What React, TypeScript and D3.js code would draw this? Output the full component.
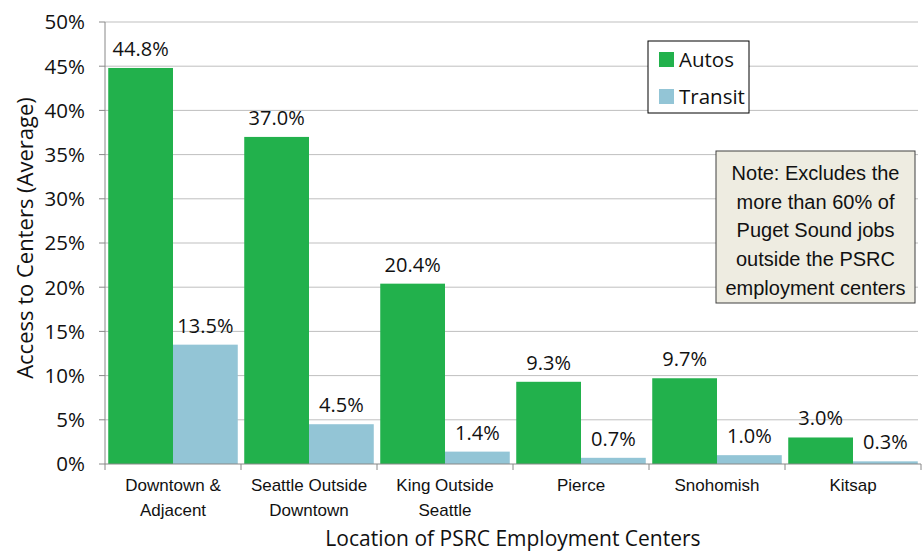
import React from "react";
import * as d3 from "d3";

const categories = [
  ["Downtown &", "Adjacent"],
  ["Seattle Outside", "Downtown"],
  ["King Outside", "Seattle"],
  ["Pierce"],
  ["Snohomish"],
  ["Kitsap"],
];
const autos = [44.8, 37.0, 20.4, 9.3, 9.7, 3.0];
const transit = [13.5, 4.5, 1.4, 0.7, 1.0, 0.3];
const yTicks = [0, 5, 10, 15, 20, 25, 30, 35, 40, 45, 50];
const noteLines = [
  "Note: Excludes the",
  "more than 60% of",
  "Puget Sound jobs",
  "outside the PSRC",
  "employment centers",
];

const GREEN = "#22B14C";
const BLUE = "#93C5D6";
const font = "'Open Sans', 'Noto Sans', sans-serif";
const narrow = "'Liberation Sans Narrow', 'Liberation Sans', Arial, sans-serif";

const App = () => {
  const width = 922;
  const height = 553;
  const margins = { top: 22, right: 1, bottom: 89, left: 105 };

  const x = d3
    .scaleBand<number>()
    .domain(d3.range(categories.length))
    .range([margins.left, width - margins.right])
    .paddingInner(0)
    .paddingOuter(0);

  const inner = d3
    .scaleBand<string>()
    .domain(["autos", "transit"])
    .range([0, x.bandwidth()])
    .paddingOuter(0.05);

  const y = d3
    .scaleLinear()
    .domain([0, 50])
    .range([height - margins.bottom, margins.top]);

  const series = [
    { key: "autos", values: autos, color: GREEN },
    { key: "transit", values: transit, color: BLUE },
  ];

  return (
    <svg
      width={width}
      height={height}
      style={{ display: "block", position: "fixed", top: 0, left: 0 }}
    >
      <rect width={width} height={height} fill="#fff" />
      {/* gridlines + y ticks */}
      {yTicks.map((t) => (
        <g key={t}>
          {t > 0 && (
            <line
              x1={margins.left}
              x2={width - 4}
              y1={y(t)}
              y2={y(t)}
              stroke="#BFBFBF"
              strokeWidth={1}
            />
          )}
          <line
            x1={margins.left - 6}
            x2={margins.left}
            y1={y(t)}
            y2={y(t)}
            stroke="#888"
          />
          <text
            x={margins.left - 20}
            y={y(t)}
            dy="0.36em"
            textAnchor="end"
            fontFamily={font}
            fontSize={20.5}
            fill="#111"
          >
            {t}%
          </text>
        </g>
      ))}
      {/* bars */}
      {series.map((s) =>
        s.values.map((v, i) => (
          <rect
            key={s.key + i}
            x={(x(i) as number) + (inner(s.key) as number)}
            y={y(v)}
            width={inner.bandwidth()}
            height={y(0) - y(v)}
            fill={s.color}
          />
        ))
      )}
      {/* value labels */}
      {series.map((s) =>
        s.values.map((v, i) => (
          <text
            key={"l" + s.key + i}
            x={(x(i) as number) + (inner(s.key) as number) + inner.bandwidth() / 2}
            y={y(v) - 12}
            textAnchor="middle"
            fontFamily={font}
            fontSize={20}
            fill="#111"
          >
            {v.toFixed(1)}%
          </text>
        ))
      )}
      {/* axes */}
      <line
        x1={margins.left}
        x2={margins.left}
        y1={margins.top}
        y2={y(0)}
        stroke="#888"
      />
      <line
        x1={margins.left}
        x2={width - margins.right}
        y1={y(0)}
        y2={y(0)}
        stroke="#888"
      />
      {d3.range(categories.length + 1).map((i) => {
        const xx = i < categories.length ? (x(i) as number) : width - margins.right;
        return (
          <line
            key={"t" + i}
            x1={xx}
            x2={xx}
            y1={y(0)}
            y2={y(0) + 6}
            stroke="#888"
          />
        );
      })}
      {categories.map((c, i) => (
        <text
          key={"c" + i}
          x={(x(i) as number) + x.bandwidth() / 2}
          textAnchor="middle"
          fontFamily={narrow}
          fontSize={17}
          fill="#111"
        >
          {c.map((line, j) => (
            <tspan key={j} x={(x(i) as number) + x.bandwidth() / 2} y={y(0) + 27 + j * 25}>
              {line}
            </tspan>
          ))}
        </text>
      ))}
      {/* axis titles */}
      <text
        x={513}
        y={546}
        textAnchor="middle"
        fontFamily={font}
        fontSize={21}
        fill="#111"
      >
        Location of PSRC Employment Centers
      </text>
      <text
        transform={`translate(33, ${(margins.top + y(0)) / 2 - 5}) rotate(-90)`}
        textAnchor="middle"
        fontFamily={font}
        fontSize={22}
        fill="#111"
      >
        Access to Centers (Average)
      </text>
      {/* legend */}
      <g transform="translate(648, 41)">
        <rect width={101} height={72} fill="#fff" stroke="#000" strokeWidth={1} />
        {series.map((s, i) => (
          <g key={"lg" + s.key} transform={`translate(11, ${11 + i * 37})`}>
            <rect width={15} height={15} fill={s.color} />
            <text
              x={20}
              y={8}
              dy="0.36em"
              fontFamily={font}
              fontSize={20.5}
              fill="#111"
            >
              {s.key === "autos" ? "Autos" : "Transit"}
            </text>
          </g>
        ))}
      </g>
      {/* note */}
      <g transform="translate(716, 151)">
        <rect width={199} height={152} fill="#EEECE1" stroke="#404040" strokeWidth={1} />
        {noteLines.map((line, i) => (
          <text
            key={"n" + i}
            x={99.5}
            y={29 + i * 28.7}
            textAnchor="middle"
            fontFamily={narrow}
            fontSize={20}
            fill="#111"
          >
            {line}
          </text>
        ))}
      </g>
    </svg>
  );
};

export default App;
